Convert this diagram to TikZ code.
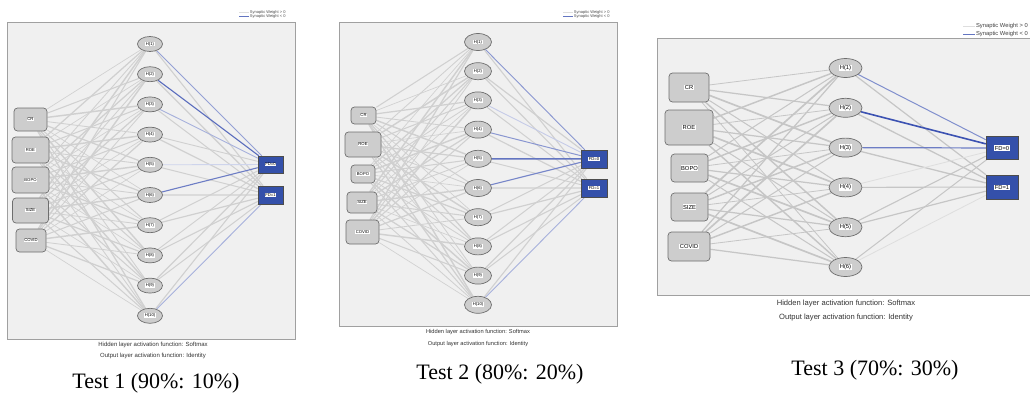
\documentclass[tikz,border=0pt]{standalone}
\usepackage{fontspec}
\setmainfont{Liberation Serif}
\newfontfamily\arialfont{Liberation Sans}
\usetikzlibrary{shapes.geometric}
\pgfdeclarelayer{panels}
\pgfdeclarelayer{edges}
\pgfsetlayers{panels,edges,main}

\definecolor{panelbg}{RGB}{240,240,240}
\definecolor{framegray}{RGB}{160,160,160}
\definecolor{nodefill}{RGB}{205,205,205}
\definecolor{nodeedge}{RGB}{110,110,110}
\definecolor{wpos}{RGB}{198,198,198}
\definecolor{wpossoft}{RGB}{208,208,208}
\definecolor{wposlight}{RGB}{222,222,222}
\definecolor{wneg}{RGB}{60,82,178}
\definecolor{outfill}{RGB}{52,80,170}

% white tag behind each node label
\newcommand\tagbox[1]{{\setlength{\fboxsep}{0.5pt}\colorbox{white}{#1}}}
\newcommand\fsz[1]{\arialfont\fontsize{#1}{#1}\selectfont}

\begin{document}
\begin{tikzpicture}[x=1pt,y=-1pt,
  inp/.style={draw=nodeedge, fill=nodefill, rounded corners=3.5pt, line width=0.7pt, inner sep=0pt},
  hid/.style={ellipse, draw=nodeedge, fill=nodefill, line width=0.7pt, inner sep=0pt},
  outp/.style={draw=black!70, fill=outfill, line width=0.5pt, inner sep=0pt},
  sz/.style 2 args={minimum width=#1pt, minimum height=#2pt},
  frame/.style={draw=framegray, fill=panelbg, line width=0.6pt},
  legpos/.style={draw=wposlight, line width=0.7pt},
  legneg/.style={draw=wneg!80!white, line width=0.7pt},
  testlbl/.style={font=\fontsize{22}{26}\selectfont}]
\clip (0,0) rectangle (1030,394);
\begin{pgfonlayer}{panels}
  \fill[white] (0,0) rectangle (1030,394);
  \draw[frame] (7,22) rectangle (295,339);
  \draw[frame] (339,22) rectangle (617,326);
  \draw[frame] (657,38) rectangle (1036,295);
\end{pgfonlayer}

%% ---------------- Panel 1: 10 hidden units ----------------
\begin{scope}[font=\fsz{4.2}]
  \node[inp, sz={33}{23}] (p1i1) at (30.5,119.5) {\tagbox{CR}};
  \node[inp, sz={37}{26}] (p1i2) at (30.5,150) {\tagbox{ROE}};
  \node[inp, sz={37}{26}] (p1i3) at (30.5,180) {\tagbox{BOPO}};
  \node[inp, sz={36}{25}] (p1i4) at (30.5,210.5) {\tagbox{SIZE}};
  \node[inp, sz={30}{23}] (p1i5) at (31,240.5) {\tagbox{COVID}};
  \foreach \k in {1,...,10}
    \node[hid, sz={25}{15}] (p1h\k) at (150,{44+30.2*(\k-1)}) {\tagbox{H(\k)}};
  \node[outp, sz={25}{17}] (p1o0) at (270.5,164.5) {\tagbox{FD=0}};
  \node[outp, sz={25}{18}] (p1o1) at (270.5,195) {\tagbox{FD=1}};
\end{scope}
\begin{pgfonlayer}{edges}
  \foreach \i in {1,...,5}
    \foreach \k in {1,...,10} {
      \pgfmathsetmacro\w{0.65+0.2*mod(\i*3+\k*7,5)}
      \draw[wpossoft, line width=\w pt] (p1i\i) -- (p1h\k);
    }
  \foreach \h/\o/\w in {1/1/1.1,2/1/1.3,3/1/1.0,4/0/0.9,4/1/1.2,5/1/1.0,6/1/1.1,
      7/0/1.0,7/1/1.2,8/0/0.9,8/1/1.1,9/0/1.2,9/1/1.0,10/0/1.1}
    \draw[wpossoft, line width=\w pt] (p1h\h) -- (p1o\o);
  \draw[wneg!55!white, line width=0.9pt] (p1h1) -- (p1o0);
  \draw[wneg!85!white, line width=1.1pt] (p1h2) -- (p1o0);
  \draw[wneg!45!white, line width=0.9pt] (p1h3) -- (p1o0);
  \draw[wneg!25!white, line width=0.9pt] (p1h5) -- (p1o0);
  \draw[wneg!75!white, line width=1.1pt] (p1h6) -- (p1o0);
  \draw[wneg!45!white, line width=0.9pt] (p1h10) -- (p1o1);
\end{pgfonlayer}
\coordinate (l1a) at (239,12); \coordinate (l1b) at (249,12);
\coordinate (l1c) at (239,16.5); \coordinate (l1d) at (249,16.5);
\draw[legpos] (l1a) -- (l1b) node[right, inner sep=0.6pt, font=\fsz{4}, text=black!70] {Synaptic Weight > 0};
\draw[legneg] (l1c) -- (l1d) node[right, inner sep=0.6pt, font=\fsz{4}, text=black!70] {Synaptic Weight < 0};
\node[font=\fsz{6}, text=black!80] (c1a) at (153,345) {Hidden layer activation function: Softmax};
\node[font=\fsz{6}, text=black!80] (c1b) at (153,356) {Output layer activation function: Identity};
\node[testlbl] (t1) at (156,383) {Test 1 (90\%: 10\%)};

%% ---------------- Panel 2: 10 hidden units ----------------
\begin{scope}[font=\fsz{4.2}]
  \node[inp, sz={25}{17}] (p2i1) at (363.5,115.5) {\tagbox{CR}};
  \node[inp, sz={36}{25}] (p2i2) at (363,144.5) {\tagbox{ROE}};
  \node[inp, sz={24}{18}] (p2i3) at (363,174) {\tagbox{BOPO}};
  \node[inp, sz={30}{21}] (p2i4) at (362,202.5) {\tagbox{SIZE}};
  \node[inp, sz={33}{24}] (p2i5) at (362.5,232) {\tagbox{COVID}};
  \foreach \k in {1,...,10}
    \node[hid, sz={27}{17}] (p2h\k) at (478,{42+29.2*(\k-1)}) {\tagbox{H(\k)}};
  \node[outp, sz={26}{18}] (p2o0) at (594,159) {\tagbox{FD=0}};
  \node[outp, sz={26}{18}] (p2o1) at (594,188) {\tagbox{FD=1}};
\end{scope}
\begin{pgfonlayer}{edges}
  \foreach \i in {1,...,5}
    \foreach \k in {1,...,10} {
      \pgfmathsetmacro\w{0.65+0.2*mod(\i*4+\k*3,5)}
      \draw[wpossoft, line width=\w pt] (p2i\i) -- (p2h\k);
    }
  \foreach \h/\o/\w in {1/1/1.1,2/0/1.2,2/1/1.1,3/1/1.0,4/1/1.2,5/1/1.0,6/1/1.2,
      7/0/1.0,7/1/1.2,8/0/1.0,8/1/1.1,9/0/1.2,9/1/1.0,10/0/1.1}
    \draw[wpossoft, line width=\w pt] (p2h\h) -- (p2o\o);
  \draw[wneg!60!white, line width=0.9pt] (p2h1) -- (p2o0);
  \draw[wneg!30!white, line width=0.9pt] (p2h3) -- (p2o0);
  \draw[wneg!60!white, line width=1.0pt] (p2h4) -- (p2o0);
  \draw[wneg!80!white, line width=1.5pt] (p2h5) -- (p2o0);
  \draw[wneg!70!white, line width=1.1pt] (p2h6) -- (p2o0);
  \draw[wneg!45!white, line width=0.9pt] (p2h10) -- (p2o1);
\end{pgfonlayer}
\coordinate (l2a) at (563,12); \coordinate (l2b) at (573,12);
\coordinate (l2c) at (563,16.5); \coordinate (l2d) at (573,16.5);
\draw[legpos] (l2a) -- (l2b) node[right, inner sep=0.6pt, font=\fsz{4}, text=black!70] {Synaptic Weight > 0};
\draw[legneg] (l2c) -- (l2d) node[right, inner sep=0.6pt, font=\fsz{4}, text=black!70] {Synaptic Weight < 0};
\node[font=\fsz{5.7}, text=black!80] (c2a) at (478,332) {Hidden layer activation function: Softmax};
\node[font=\fsz{5.7}, text=black!80] (c2b) at (478,344) {Output layer activation function: Identity};
\node[testlbl] (t2) at (500,374) {Test 2 (80\%: 20\%)};

%% ---------------- Panel 3: 6 hidden units ----------------
\begin{scope}[font=\fsz{5.8}]
  \node[inp, sz={40}{29}] (p3i1) at (689,87.5) {\tagbox{CR}};
  \node[inp, sz={48}{35}] (p3i2) at (689,127.5) {\tagbox{ROE}};
  \node[inp, sz={37}{28}] (p3i3) at (689.5,168) {\tagbox{BOPO}};
  \node[inp, sz={37}{28}] (p3i4) at (689.5,207) {\tagbox{SIZE}};
  \node[inp, sz={42}{29}] (p3i5) at (689,246.5) {\tagbox{COVID}};
  \foreach \k in {1,...,6}
    \node[hid, sz={33}{19}] (p3h\k) at (845.5,{68+39.8*(\k-1)}) {\tagbox{H(\k)}};
  \node[outp, sz={32}{23}] (p3o0) at (1002,148) {\tagbox{FD=0}};
  \node[outp, sz={32}{24}] (p3o1) at (1002,187) {\tagbox{FD=1}};
\end{scope}
\begin{pgfonlayer}{edges}
  \foreach \i in {1,...,5}
    \foreach \k in {1,...,6} {
      \pgfmathsetmacro\w{0.8+0.22*mod(\i*3+\k*2,5)}
      \draw[wpos, line width=\w pt] (p3i\i) -- (p3h\k);
    }
  \foreach \h/\o/\w in {1/1/1.2,2/1/1.3,3/1/1.3,4/1/1.1,5/0/1.1,5/1/1.2,6/0/1.0}
    \draw[wpos, line width=\w pt] (p3h\h) -- (p3o\o);
  \draw[wposlight, line width=0.8pt] (p3h4) -- (p3o0);
  \draw[wposlight, line width=0.8pt] (p3h6) -- (p3o1);
  \draw[wneg!65!white, line width=1.0pt] (p3h1) -- (p3o0);
  \draw[wneg, line width=1.6pt] (p3h2) -- (p3o0);
  \draw[wneg!75!white, line width=1.2pt] (p3h3) -- (p3o0);
\end{pgfonlayer}
\coordinate (l3a) at (963,26); \coordinate (l3b) at (975,26);
\coordinate (l3c) at (963,34); \coordinate (l3d) at (975,34);
\draw[legpos, line width=1pt] (l3a) -- (l3b) node[right, inner sep=0.6pt, font=\fsz{5.8}, text=black!75] {Synaptic Weight > 0};
\draw[legneg, line width=1pt] (l3c) -- (l3d) node[right, inner sep=0.6pt, font=\fsz{5.8}, text=black!75] {Synaptic Weight < 0};
\node[font=\fsz{7.6}, text=black!80] (c3a) at (846,304) {Hidden layer activation function: Softmax};
\node[font=\fsz{7.6}, text=black!80] (c3b) at (846,318) {Output layer activation function: Identity};
\node[testlbl] (t3) at (875,370) {Test 3 (70\%: 30\%)};
\end{tikzpicture}
\end{document}
